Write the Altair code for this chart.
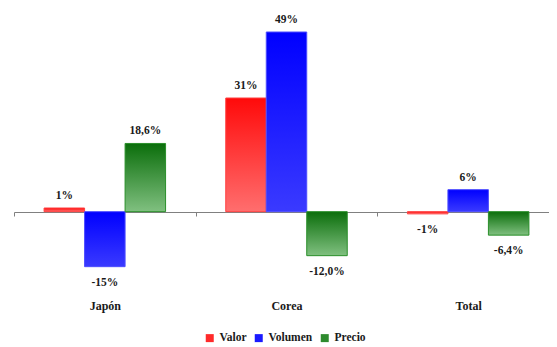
import altair as alt
import pandas as pd

regions = ["Japón", "Corea", "Total"]
series = ["Valor", "Volumen", "Precio"]
valor = [1.0, 31.0, -0.6]
volumen = [-15.0, 49.0, 6.0]
precio = [18.6, -12.0, -6.4]
valor_lbl = ["1%", "31%", "-1%"]
volumen_lbl = ["-15%", "49%", "6%"]
precio_lbl = ["18,6%", "-12,0%", "-6,4%"]

legend_colors = ["#ff2a2a", "#1a1aff", "#2e8b2e"]
gradients = {
    "Valor": ("#ff0a0a", "#ff6e6e", "#ff4040"),
    "Volumen": ("#0000ff", "#3a3aff", "#4d4dff"),
    "Precio": ("#0b6e0b", "#80c080", "#2a8f2a"),
}

rows = []
for s, vals, lbls in zip(series, [valor, volumen, precio], [valor_lbl, volumen_lbl, precio_lbl]):
    for r, v, l in zip(regions, vals, lbls):
        rows.append({"region": r, "serie": s, "value": v, "label": l})
df = pd.DataFrame(rows)

FONT = "'Liberation Serif', 'Times New Roman', 'DejaVu Serif', serif"
TXT = "#1a1a1a"

x_enc = alt.X(
    "region:N",
    sort=regions,
    scale=alt.Scale(range=[0, 545], paddingInner=0, paddingOuter=0),
    axis=alt.Axis(
        title=None, orient="bottom", offset=-84, domainColor="#808080", domainWidth=1,
        tickColor="#808080", tickWidth=1, tickSize=4, tickBand="extent", labelAngle=0,
        labelFont=FONT, labelFontWeight="bold", labelFontSize=12, labelColor=TXT,
        labelPadding=84,
    ),
)
xoff_enc = alt.XOffset(
    "serie:N", sort=series,
    scale=alt.Scale(domain=series, paddingInner=0, paddingOuter=0.743),
)
y_enc = alt.Y("value:Q", scale=alt.Scale(domain=[-23, 55], nice=False), axis=None)

base = alt.Chart(df)

legend_layer = base.mark_bar(opacity=0).encode(
    x=x_enc, xOffset=xoff_enc, y=y_enc,
    color=alt.Color(
        "serie:N", sort=series,
        scale=alt.Scale(domain=series, range=legend_colors),
        legend=alt.Legend(
            title=None, orient="none", legendX=190, legendY=322, direction="horizontal",
            symbolType="square", symbolSize=64, symbolOpacity=1, symbolStrokeWidth=0,
            labelFont=FONT, labelFontWeight="bold", labelFontSize=11.5, labelColor=TXT,
            columnPadding=6, labelOffset=4,
        ),
    ),
)

layers = [legend_layer]
for s in series:
    top, bot, stroke = gradients[s]
    layers.append(
        base.transform_filter(alt.datum.serie == s).mark_bar(
            fill=alt.Gradient(
                gradient="linear",
                stops=[alt.GradientStop(color=top, offset=0), alt.GradientStop(color=bot, offset=1)],
                x1=0, x2=0, y1=0, y2=1,
            ),
            stroke=stroke, strokeWidth=1,
        ).encode(x=x_enc, xOffset=xoff_enc, y=y_enc)
    )

text_kw = dict(font=FONT, fontWeight="bold", fontSize=11.5, color=TXT)
pos_text = base.transform_filter(alt.datum.value >= 0).mark_text(
    baseline="bottom", dy=-7, **text_kw
).encode(x=x_enc, xOffset=xoff_enc, y=y_enc, text="label:N")
neg_text = base.transform_filter(alt.datum.value < 0).mark_text(
    baseline="top", dy=10, **text_kw
).encode(x=x_enc, xOffset=xoff_enc, y=y_enc, text="label:N")
layers += [pos_text, neg_text]

chart = alt.layer(*layers).properties(
    width=535, height=286,
    autosize=alt.AutoSizeParams(type="none"),
    padding={"left": 6, "top": 2, "right": 0, "bottom": 51},
).configure_view(stroke=None)

chart.save("out.html", embed_options={"renderer": "svg", "actions": False})
